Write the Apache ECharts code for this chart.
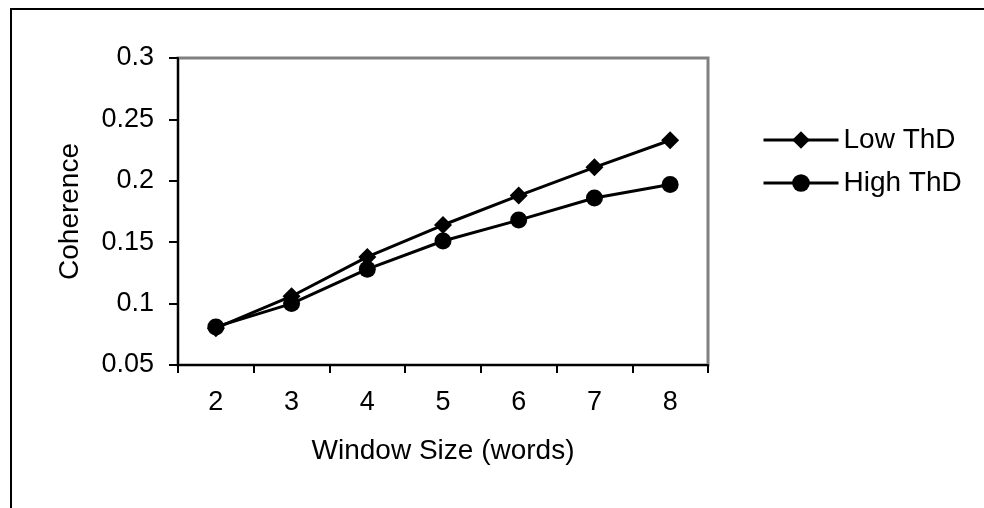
<!DOCTYPE html>
<html>
<head>
<meta charset="utf-8">
<script src="https://cdn.jsdelivr.net/npm/echarts@6.0.0/dist/echarts.min.js"></script>
<style>
  html, body { margin: 0; padding: 0; background: #fff; }
  #root { width: 984px; height: 508px; }
</style>
</head>
<body>
<div id="root"></div>
<script>
  const windowSizes = ['2', '3', '4', '5', '6', '7', '8'];
  const lowThD = [0.080, 0.106, 0.138, 0.164, 0.188, 0.211, 0.233];
  const highThD = [0.081, 0.100, 0.128, 0.151, 0.168, 0.186, 0.197];
  const yTicks = { min: 0.05, max: 0.3, step: 0.05 };

  const font = 'Liberation Sans, Arial, sans-serif';
  const chart = echarts.init(document.getElementById('root'), null, { renderer: 'canvas' });

  chart.setOption({
    backgroundColor: '#fff',
    animation: false,
    textStyle: { fontFamily: font, color: '#000' },
    graphic: [{
      type: 'rect',
      shape: { x: 11, y: 9, width: 2000, height: 2000 },
      style: { fill: null, stroke: '#000', lineWidth: 2 },
      silent: true
    }],
    grid: {
      left: 178, top: 58, right: 276, bottom: 143,
      show: true, borderColor: '#808080', borderWidth: 3
    },
    legend: {
      orient: 'vertical',
      left: 757, top: 121,
      itemWidth: 75, itemHeight: 22, itemGap: 15,
      lineStyle: { width: 3 },
      textStyle: { fontFamily: font, fontSize: 28, color: '#000' },
      data: ['Low ThD', 'High ThD']
    },
    xAxis: {
      type: 'category',
      data: windowSizes,
      boundaryGap: true,
      name: 'Window Size (words)',
      nameLocation: 'middle',
      nameGap: 72,
      nameTextStyle: { fontFamily: font, fontSize: 28, color: '#000' },
      axisLine: { lineStyle: { color: '#000', width: 2 } },
      axisTick: { show: true, inside: false, length: 8, lineStyle: { color: '#000', width: 2 } },
      axisLabel: { margin: 24, fontFamily: font, fontSize: 27, color: '#000' },
      splitLine: { show: false }
    },
    yAxis: {
      type: 'value',
      min: yTicks.min, max: yTicks.max, interval: yTicks.step,
      name: 'Coherence',
      nameLocation: 'middle',
      nameGap: 94,
      nameRotate: 90,
      nameTextStyle: { fontFamily: font, fontSize: 28, color: '#000' },
      axisLine: { show: true, lineStyle: { color: '#000', width: 2 } },
      axisTick: { show: true, inside: false, length: 9, lineStyle: { color: '#000', width: 2 } },
      axisLabel: { margin: 24, fontFamily: font, fontSize: 27, color: '#000' },
      splitLine: { show: false }
    },
    series: [{
      name: 'Low ThD',
      type: 'line',
      data: lowThD,
      symbol: 'diamond',
      symbolSize: 18,
      itemStyle: { color: '#000' },
      lineStyle: { color: '#000', width: 3 }
    }, {
      name: 'High ThD',
      type: 'line',
      data: highThD,
      symbol: 'circle',
      symbolSize: 17,
      itemStyle: { color: '#000' },
      lineStyle: { color: '#000', width: 3 }
    }]
  });
</script>
</body>
</html>
